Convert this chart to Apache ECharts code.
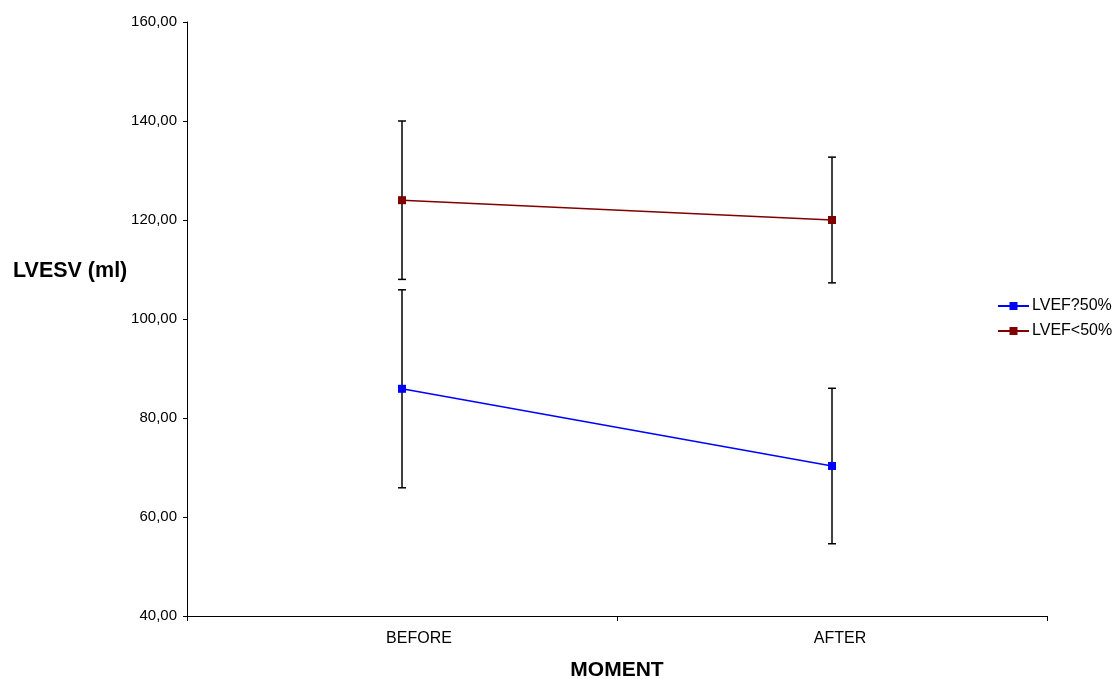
<!DOCTYPE html>
<html>
<head>
<meta charset="utf-8">
<script src="https://cdn.jsdelivr.net/npm/echarts@6/dist/echarts.min.js"></script>
<style>html,body{margin:0;padding:0;background:#fff}#c{width:1115px;height:679px}</style>
</head>
<body>
<div id="c"></div>
<script>
const categories = ['BEFORE', 'AFTER'];
const seriesNames = ['LVEF?50%', 'LVEF<50%'];
const meanHigh = [85.9, 70.3];
const sdHigh = [20.0, 15.7];
const meanLow = [124.0, 120.0];
const sdLow = [16.0, 12.7];
const yTicks = { min: 40, max: 160, interval: 20 };

const chart = echarts.init(document.getElementById('c'));
const font = 'Liberation Sans, Arial, sans-serif';

function errData(means, sds) {
  return means.map((m, i) => [i, m - sds[i], m + sds[i]]);
}
function renderErr(params, api) {
  const x = api.value(0);
  const lo = api.coord([x, api.value(1)]);
  const hi = api.coord([x, api.value(2)]);
  const w = 4;
  const style = { stroke: '#000', lineWidth: 1.5 };
  return {
    type: 'group',
    children: [
      { type: 'line', shape: { x1: hi[0], y1: hi[1], x2: lo[0], y2: lo[1] }, style },
      { type: 'line', shape: { x1: hi[0] - w, y1: hi[1], x2: hi[0] + w, y2: hi[1] }, style },
      { type: 'line', shape: { x1: lo[0] - w, y1: lo[1], x2: lo[0] + w, y2: lo[1] }, style }
    ]
  };
}

chart.setOption({
  animation: false,
  backgroundColor: '#fff',
  grid: { left: 187, right: 68, top: 22, bottom: 63, containLabel: false, outerBoundsMode: 'none' },
  legend: {
    data: seriesNames,
    orient: 'vertical',
    left: 997,
    top: 298,
    padding: 0,
    itemWidth: 31,
    itemHeight: 10,
    itemGap: 9,
    textStyle: { fontFamily: font, fontSize: 16, color: '#000', padding: [0, 0, 0, -2] }
  },
  graphic: [{
    type: 'text',
    left: 13,
    top: 260,
    style: { text: 'LVESV (ml)', font: 'bold 21.5px ' + font, fill: '#000' }
  }],
  xAxis: {
    type: 'category',
    data: categories,
    boundaryGap: true,
    name: 'MOMENT',
    nameLocation: 'middle',
    nameGap: 44,
    nameTextStyle: { fontFamily: font, fontSize: 21, fontWeight: 'bold', color: '#000' },
    axisLine: { show: true, lineStyle: { color: '#000', width: 1 } },
    axisTick: { show: true, interval: 0, length: 5, lineStyle: { color: '#000' } },
    axisLabel: {
      fontFamily: font, fontSize: 16, color: '#000', margin: 15,
      formatter: (v, i) => '{c' + i + '|' + v + '}',
      rich: {
        c0: { fontFamily: font, fontSize: 16, color: '#000', padding: [0, 0, 0, 34] },
        c1: { fontFamily: font, fontSize: 16, color: '#000', padding: [0, 0, 0, 16] }
      }
    },
    splitLine: { show: false }
  },
  yAxis: {
    type: 'value',
    min: yTicks.min,
    max: yTicks.max,
    interval: yTicks.interval,
    axisLine: { show: true, lineStyle: { color: '#000', width: 1 } },
    axisTick: { show: true, length: 4, lineStyle: { color: '#000' } },
    axisLabel: {
      fontFamily: font, fontSize: 15, color: '#000', margin: 10,
      formatter: v => v.toFixed(2).replace('.', ',')
    },
    splitLine: { show: false }
  },
  series: [
    {
      type: 'custom', name: 'errHigh', renderItem: renderErr,
      data: errData(meanHigh, sdHigh), z: 1, silent: true,
      encode: { x: 0, y: [1, 2] }
    },
    {
      type: 'custom', name: 'errLow', renderItem: renderErr,
      data: errData(meanLow, sdLow), z: 1, silent: true,
      encode: { x: 0, y: [1, 2] }
    },
    {
      type: 'line', name: seriesNames[0], data: meanHigh, z: 3,
      symbol: 'rect', symbolSize: 8,
      itemStyle: { color: '#0000FF' },
      lineStyle: { color: '#0000FF', width: 1.5 }
    },
    {
      type: 'line', name: seriesNames[1], data: meanLow, z: 3,
      symbol: 'rect', symbolSize: 8,
      itemStyle: { color: '#800000' },
      lineStyle: { color: '#800000', width: 1.5 }
    }
  ]
});
</script>
</body>
</html>
